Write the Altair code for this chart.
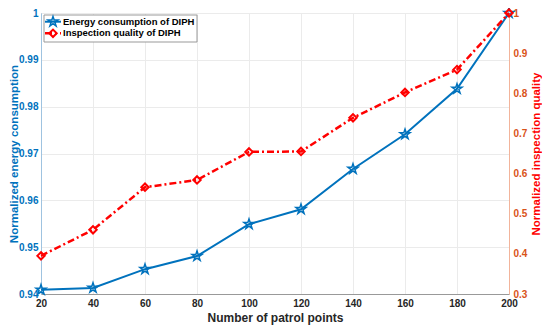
import altair as alt
import pandas as pd

patrol_points = [20, 40, 60, 80, 100, 120, 140, 160, 180, 200]
energy = [0.9409, 0.9413, 0.9453, 0.9481, 0.9549, 0.9581, 0.9667, 0.9741, 0.9838, 1.0]
quality = [0.395, 0.460, 0.566, 0.584, 0.654, 0.655, 0.739, 0.802, 0.859, 1.0]
legend_labels = ["Energy consumption of DIPH", "Inspection quality of DIPH"]

BLUE = "#0072BD"
RED = "#FF0000"
ORANGE = "#D95319"
FONT = "Liberation Sans"
STAR = ("M0,-1L0.2245,-0.309L0.951,-0.309L0.363,0.118L0.588,0.809L0,0.382"
        "L-0.588,0.809L-0.363,0.118L-0.951,-0.309L-0.2245,-0.309Z")

W, H = 468, 281

df = pd.DataFrame({"x": patrol_points, "energy": energy, "quality": quality})
one = pd.DataFrame({"a": [0]})

x_enc = alt.X("x:Q", scale=alt.Scale(domain=[20, 200], nice=False),
              axis=alt.Axis(values=patrol_points, title="Number of patrol points",
                            labelFont=FONT, labelFontWeight="bold", labelFontSize=10,
                            labelColor="#262626", titleFont=FONT, titleFontWeight="bold",
                            titleFontSize=12, titleColor="#262626", titlePadding=4,
                            labelPadding=4, ticks=False, domainColor="#999999",
                            gridColor="#EBEBEB", labelFlush=False))

y_left = alt.Y("energy:Q", scale=alt.Scale(domain=[0.94, 1.0], nice=False, zero=False),
               axis=alt.Axis(values=[0.94, 0.95, 0.96, 0.97, 0.98, 0.99, 1.0], format=".2~f",
                             title="Normalized energy consumption", orient="left",
                             labelFont=FONT, labelFontWeight="bold", labelFontSize=10,
                             labelColor=BLUE, titleFont=FONT, titleFontWeight="bold",
                             titleFontSize=11.5, titleColor=BLUE, titleX=-21.5,
                             titleY=H / 2, titleBaseline="bottom", titleAlign="center",
                             labelPadding=3, ticks=False, domainColor="#9FC3E0",
                             gridColor="#EBEBEB", labelFlush=False))

y_right = alt.Y("quality:Q", scale=alt.Scale(domain=[0.3, 1.0], nice=False, zero=False),
                axis=alt.Axis(values=[0.3, 0.4, 0.5, 0.6, 0.7, 0.8, 0.9, 1.0], format=".1~f",
                              title="Normalized inspection quality", orient="right",
                              labelFont=FONT, labelFontWeight="bold", labelFontSize=10,
                              labelColor=ORANGE, titleFont=FONT, titleFontWeight="bold",
                              titleFontSize=11.5, titleColor=RED, titleAngle=270,
                              titleX=21.5, titleY=H / 2, titleBaseline="top",
                              titleAlign="center", labelPadding=4, ticks=False,
                              domainColor="#F2B49B", grid=False, labelFlush=False))

e_line = alt.Chart(df).mark_line(color=BLUE, strokeWidth=2).encode(x=x_enc, y=y_left)
e_pts = alt.Chart(df).mark_point(shape=STAR, size=110, color=BLUE, strokeWidth=1.5,
                                 filled=False, opacity=1).encode(x="x:Q", y="energy:Q")

r1, r2 = 8.7, 20.3
leg_box = alt.Chart(one).mark_rect(fill="white", stroke="#999999", strokeWidth=1).encode(
    x=alt.value(3), x2=alt.value(156), y=alt.value(2), y2=alt.value(29))
leg_l1 = alt.Chart(one).mark_rule(color=BLUE, strokeWidth=2).encode(
    x=alt.value(4), x2=alt.value(20), y=alt.value(r1))
leg_p1 = alt.Chart(one).mark_point(shape=STAR, size=110, color=BLUE, strokeWidth=1.5,
                                   filled=False, opacity=1).encode(
    x=alt.value(12), y=alt.value(r1))
leg_t1 = alt.Chart(one).mark_text(text=legend_labels[0], align="left", baseline="middle",
                                  font=FONT, fontWeight="bold", fontSize=9.5,
                                  color="#000000").encode(x=alt.value(22), y=alt.value(r1))
leg_l2 = alt.Chart(one).mark_rule(color=RED, strokeWidth=2.5, strokeDash=[7, 3, 2, 3]).encode(
    x=alt.value(4), x2=alt.value(20), y=alt.value(r2))
leg_p2 = alt.Chart(one).mark_point(shape="diamond", size=55, color=RED, strokeWidth=2,
                                   filled=False, opacity=1).encode(
    x=alt.value(12), y=alt.value(r2))
leg_t2 = alt.Chart(one).mark_text(text=legend_labels[1], align="left", baseline="middle",
                                  font=FONT, fontWeight="bold", fontSize=9.5,
                                  color="#000000").encode(x=alt.value(22), y=alt.value(r2))

q_line = alt.Chart(df).mark_line(color=RED, strokeWidth=2.5, strokeDash=[7, 3, 2, 3]).encode(
    x="x:Q", y=y_right)
q_pts = alt.Chart(df).mark_point(shape="diamond", size=55, color=RED, strokeWidth=2,
                                 filled=False, opacity=1).encode(x="x:Q", y="quality:Q")

left = alt.layer(e_line, e_pts, leg_box, leg_l1, leg_p1, leg_t1, leg_l2, leg_p2, leg_t2)
right = alt.layer(q_line, q_pts)

chart = alt.layer(left, right).resolve_scale(y="independent").properties(
    width=W, height=H,
    autosize=alt.AutoSizeParams(type="none"),
    padding={"left": 33, "top": 5, "right": 33, "bottom": 31},
    background="white",
).configure_view(stroke="#999999", strokeWidth=1)

chart.save("out.html", embed_options={"renderer": "svg", "actions": False})
